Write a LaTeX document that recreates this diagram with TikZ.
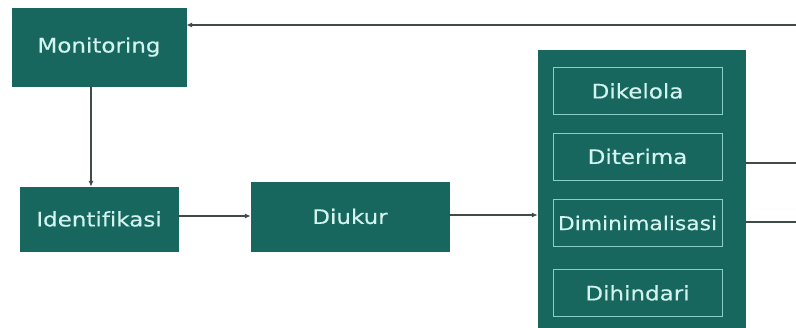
\documentclass[tikz,border=0pt]{standalone}
\usepackage{fontspec}
\usepackage{xcolor}
\usepackage{tikz}
\usetikzlibrary{arrows.meta,positioning,calc}
\newfontfamily\boxfont[FakeStretch=1.15,FakeBold=0.4,Ligatures=NoCommon]{DejaVu Sans}
\definecolor{teal1}{HTML}{17675F}
\definecolor{tealtxt}{HTML}{D2F3EF}
\definecolor{tealline}{HTML}{8ACFC6}
\definecolor{linegray}{HTML}{3E4B46}

\begin{document}
\begin{tikzpicture}[x=1pt, y=-1pt,
  box/.style={rectangle, draw=teal1, fill=teal1, text=tealtxt, inner sep=0pt,
              minimum width=#1, align=center, font=\boxfont\fontsize{20}{24}\selectfont},
  inbox/.style={rectangle, draw=tealline, line width=0.8pt, text=tealtxt, inner sep=0pt,
              minimum width=169pt, minimum height=47pt, font=\boxfont\fontsize{20}{24}\selectfont},
  arr/.style={-{Latex[length=6pt,width=5pt]}, line width=1.6pt, draw=linegray},
  lin/.style={line width=1.6pt, draw=linegray}]
  \useasboundingbox (0,0) rectangle (796,328);
  % Main steps
  \node[box=174pt, minimum height=78pt] (mon)  at (99,47)    {Monitoring};
  \node[box=158pt, minimum height=64pt] (idf)  at (99,219)   {Identifikasi};
  \node[box=198pt, minimum height=69pt] (ukur) at (350,216.5) {Diukur};
  % Treatment options
  \node[box=207pt, minimum height=282pt] (big) at (641.5,191) {};
  \node[inbox] (kel) at (637.5,91)    {Dikelola};
  \node[inbox] (ter) at (637.5,156.5) {Diterima};
  \node[inbox, font=\boxfont\fontsize{19}{23}\selectfont] (min) at (637.5,223) {Diminimalisasi};
  \node[inbox] (hin) at (637.5,293)   {Dihindari};
  % Right edge ends
  \coordinate (fb) at (796,25);
  \coordinate (r1) at (796,163);
  \coordinate (r2) at (796,222);
  % Arrows
  \draw[arr] (fb) -- (fb -| mon.east);
  \draw[arr] ([xshift=-8pt]mon.south) -- ([xshift=-8pt]idf.north);
  \draw[arr] ([yshift=3pt]idf.east) -- ([yshift=3pt]idf.east -| ukur.west);
  \draw[arr] ([yshift=1.5pt]ukur.east) -- ([yshift=1.5pt]ukur.east -| big.west);
  \draw[lin] (big.east |- r1) -- (r1);
  \draw[lin] (big.east |- r2) -- (r2);
\end{tikzpicture}
\end{document}
